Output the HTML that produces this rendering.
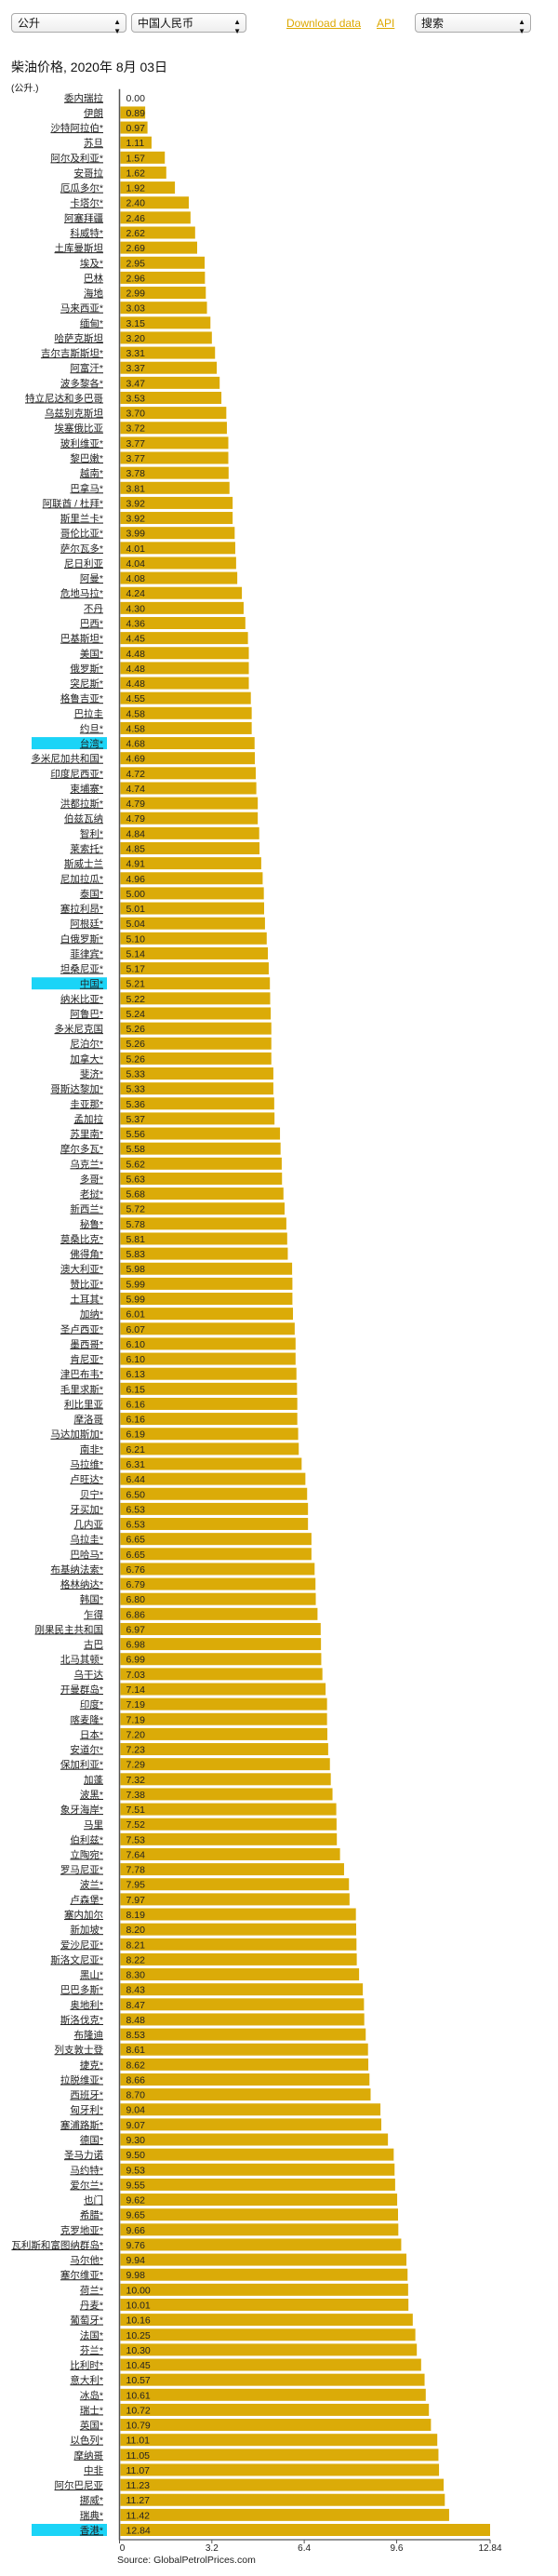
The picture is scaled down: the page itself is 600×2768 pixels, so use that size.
<!DOCTYPE html>
<html><head><meta charset="utf-8">
<style>
body{margin:0;width:600px;height:2768px;background:#fff;font-family:"Liberation Sans","Noto Sans CJK SC",sans-serif;position:relative;overflow:hidden}
.sel{position:absolute;top:14px;height:21px;border:1px solid #aaa;border-radius:4px;background:linear-gradient(#fff,#eee);font-size:12px;line-height:21px;padding-left:6px;box-sizing:border-box;color:#111}
.sel span.ar{position:absolute;right:5px;top:0;font-size:8px;line-height:10px;top:4px}
a{position:absolute;top:18px;font-size:12px;color:#dda800;text-decoration:underline}
svg text{font-family:"Liberation Sans","Noto Sans CJK SC",sans-serif}
</style></head><body>
<div class="sel" style="left:12px;width:124px">公升<span class="ar">▲<br>▼</span></div>
<div class="sel" style="left:141px;width:124px">中国人民币<span class="ar">▲<br>▼</span></div>
<a style="left:308px">Download data</a>
<a style="left:405px">API</a>
<div class="sel" style="left:446px;width:125px">搜索<span class="ar">▲<br>▼</span></div>
<div style="position:absolute;left:12px;top:62px;font-size:14px;color:#111">柴油价格, 2020年 8月 03日</div>
<div style="position:absolute;left:12px;top:86px;font-size:10px;color:#111">(公升.)</div>
<svg id="chart" width="600" height="2768" style="position:absolute;left:0;top:0"></svg>
<script>
const countries=["委内瑞拉","伊朗","沙特阿拉伯*","苏旦","阿尔及利亚*","安哥拉","厄瓜多尔*","卡塔尔*","阿塞拜疆","科威特*","土库曼斯坦","埃及*","巴林","海地","马来西亚*","缅甸*","哈萨克斯坦","吉尔吉斯斯坦*","阿富汗*","波多黎各*","特立尼达和多巴哥","乌兹别克斯坦","埃塞俄比亚","玻利维亚*","黎巴嫩*","越南*","巴拿马*","阿联酋 / 杜拜*","斯里兰卡*","哥伦比亚*","萨尔瓦多*","尼日利亚","阿曼*","危地马拉*","不丹","巴西*","巴基斯坦*","美国*","俄罗斯*","突尼斯*","格鲁吉亚*","巴拉圭","约旦*","台湾*","多米尼加共和国*","印度尼西亚*","柬埔寨*","洪都拉斯*","伯兹瓦纳","智利*","莱索托*","斯威士兰","尼加拉瓜*","泰国*","塞拉利昂*","阿根廷*","白俄罗斯*","菲律宾*","坦桑尼亚*","中国*","纳米比亚*","阿鲁巴*","多米尼克国","尼泊尔*","加拿大*","斐济*","哥斯达黎加*","圭亚那*","孟加拉","苏里南*","摩尔多瓦*","乌克兰*","多哥*","老挝*","新西兰*","秘鲁*","莫桑比克*","佛得角*","澳大利亚*","赞比亚*","土耳其*","加纳*","圣卢西亚*","墨西哥*","肯尼亚*","津巴布韦*","毛里求斯*","利比里亚","摩洛哥","马达加斯加*","南非*","马拉维*","卢旺达*","贝宁*","牙买加*","几内亚","乌拉圭*","巴哈马*","布基纳法索*","格林纳达*","韩国*","乍得","刚果民主共和国","古巴","北马其顿*","乌干达","开曼群岛*","印度*","喀麦隆*","日本*","安道尔*","保加利亚*","加蓬","波黑*","象牙海岸*","马里","伯利兹*","立陶宛*","罗马尼亚*","波兰*","卢森堡*","塞内加尔","新加坡*","爱沙尼亚*","斯洛文尼亚*","黑山*","巴巴多斯*","奥地利*","斯洛伐克*","布隆迪","列支敦士登","捷克*","拉脱维亚*","西班牙*","匈牙利*","塞浦路斯*","德国*","圣马力诺","马约特*","爱尔兰*","也门","希腊*","克罗地亚*","瓦利斯和富图纳群岛*","马尔他*","塞尔维亚*","荷兰*","丹麦*","葡萄牙*","法国*","芬兰*","比利时*","意大利*","冰岛*","瑞士*","英国*","以色列*","摩纳哥","中非","阿尔巴尼亚","挪威*","瑞典*","香港*"];
const prices=[0.00,0.89,0.97,1.11,1.57,1.62,1.92,2.40,2.46,2.62,2.69,2.95,2.96,2.99,3.03,3.15,3.20,3.31,3.37,3.47,3.53,3.70,3.72,3.77,3.77,3.78,3.81,3.92,3.92,3.99,4.01,4.04,4.08,4.24,4.30,4.36,4.45,4.48,4.48,4.48,4.55,4.58,4.58,4.68,4.69,4.72,4.74,4.79,4.79,4.84,4.85,4.91,4.96,5.00,5.01,5.04,5.10,5.14,5.17,5.21,5.22,5.24,5.26,5.26,5.26,5.33,5.33,5.36,5.37,5.56,5.58,5.62,5.63,5.68,5.72,5.78,5.81,5.83,5.98,5.99,5.99,6.01,6.07,6.10,6.10,6.13,6.15,6.16,6.16,6.19,6.21,6.31,6.44,6.50,6.53,6.53,6.65,6.65,6.76,6.79,6.80,6.86,6.97,6.98,6.99,7.03,7.14,7.19,7.19,7.20,7.23,7.29,7.32,7.38,7.51,7.52,7.53,7.64,7.78,7.95,7.97,8.19,8.20,8.21,8.22,8.30,8.43,8.47,8.48,8.53,8.61,8.62,8.66,8.70,9.04,9.07,9.30,9.50,9.53,9.55,9.62,9.65,9.66,9.76,9.94,9.98,10.00,10.01,10.16,10.25,10.30,10.45,10.57,10.61,10.72,10.79,11.01,11.05,11.07,11.23,11.27,11.42,12.84];
const highlighted=["台湾*","中国*","香港*"];
const tickValues=[0,3.2,6.4,9.6,12.84];
const tickLabels=["0","3.2","6.4","9.6","12.84"];

const NS="http://www.w3.org/2000/svg";
const svg=document.getElementById('chart');
const x0=128.5, xMax=527, vMax=12.84;
const xs=v=>x0+(v/vMax)*(xMax-x0);
const firstY=104.8, lastY=2718.5;
const step=(lastY-firstY)/(countries.length-1);
const ys=i=>firstY+i*step;
const barH=13;
function mk(tag,attrs){const e=document.createElementNS(NS,tag);for(const k in attrs)e.setAttribute(k,attrs[k]);svg.appendChild(e);return e;}
countries.forEach((c,i)=>{
  const y=ys(i);
  if(highlighted.includes(c)){
    const h=mk('rect',{x:34,y:y-barH/2,width:81,height:barH,fill:'#1bd4f7'});
    
    
  }
  const t=mk('text',{x:111,y:y+4,'text-anchor':'end','font-size':'10.5',fill:'#222','text-decoration':'underline'});
  t.textContent=c;
  
  
  const b=mk('rect',{x:x0+1,y:y-barH/2,width:Math.max(0,xs(prices[i])-x0-1),height:barH,fill:'#dbab08'});
  
  
  const v=mk('text',{x:x0+7,y:y+4,'font-size':'10.5',fill:'#222'});
  v.textContent=prices[i].toFixed(2);
  
  
});
const ya=mk('line',{x1:x0,x2:x0,y1:firstY-9,y2:lastY+11,stroke:'#555','stroke-width':1.5});


const axY=lastY+10.5;
const xa=mk('line',{x1:x0,x2:xMax,y1:axY,y2:axY,stroke:'#555','stroke-width':1.2});


tickValues.forEach((v,i)=>{
  const tk=mk('line',{x1:xs(v),x2:xs(v),y1:axY,y2:axY+4,stroke:'#555'});
  
  
  const tl=mk('text',{x:xs(v)+(i===0?3:0),y:axY+12,'text-anchor':'middle','font-size':'10',fill:'#222'});
  tl.textContent=tickLabels[i];
  
  
});
const src=mk('text',{x:126,y:axY+25,'font-size':'10.5',fill:'#222'});
src.textContent='Source: GlobalPetrolPrices.com';


</script>
</body></html>
